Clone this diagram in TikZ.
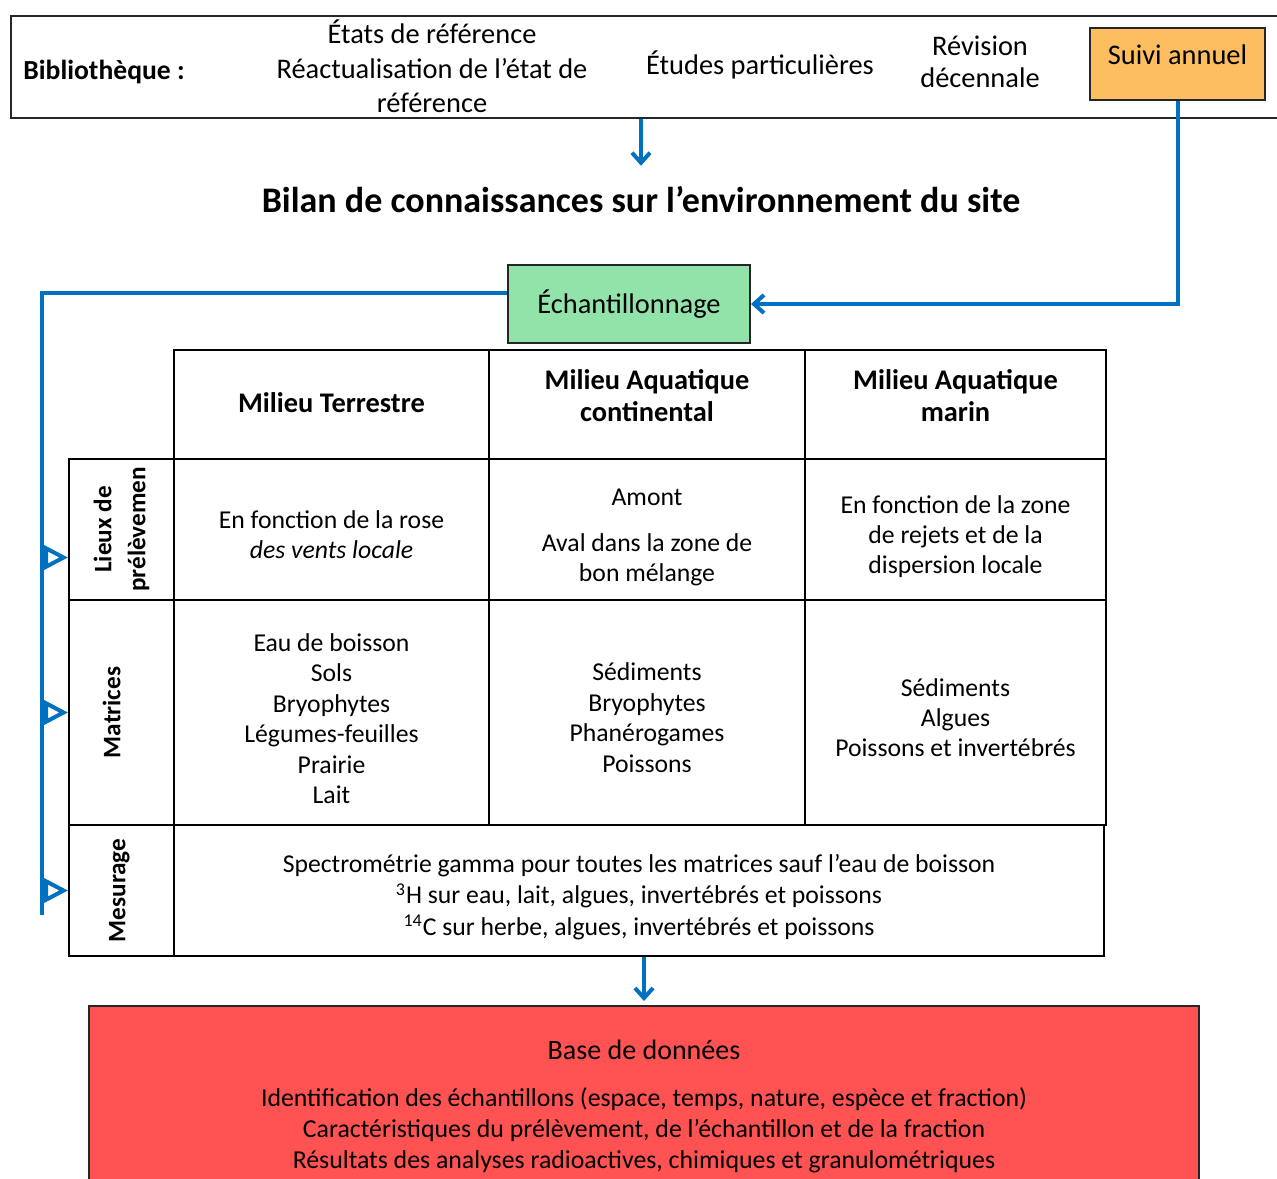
\documentclass[tikz,border=0pt]{standalone}
\usepackage{fontspec}
\setmainfont{Carlito}
\usepackage{graphicx}
\usetikzlibrary{arrows.meta,positioning}

\definecolor{flowblue}{RGB}{0,112,192}
\definecolor{suiviorange}{RGB}{253,190,96}
\definecolor{echgreen}{RGB}{146,227,170}
\definecolor{basered}{RGB}{255,82,82}

\newcommand{\txt}{\fontsize{12.85}{15.2}\selectfont}
\newcommand{\celltext}[2][-4pt]{\raisebox{#1}[\height][\depth]{\begin{tabular}{@{}c@{}}#2\end{tabular}}}

\begin{document}
\begin{tikzpicture}[x=0.5pt,y=-0.5pt,
	every node/.style={font=\txt},
	box/.style={draw=black!85, line width=1pt, inner sep=0pt},
	cell/.style={draw=black, line width=1pt, inner sep=0pt},
	head/.style={cell, font=\fontsize{14.2}{16}\selectfont\bfseries},
	side/.style={cell, font=\fontsize{12.6}{17}\selectfont\bfseries, minimum width=52.5pt},
	strip/.style={font=\fontsize{14.2}{17.25}\selectfont},
	flow/.style={draw=flowblue, line width=2pt, -{Straight Barb[length=5pt,width=9pt]}},
	feed/.style={draw=flowblue, line width=2pt, -{Triangle[open,length=12pt,width=12pt]}}]
	\useasboundingbox (0,0) rectangle (1277,1178);
	
	% bibliotheque
	\node[box, minimum width=650pt, minimum height=51pt, anchor=north west] (biblio) at (10,15) {};
	\node[font=\fontsize{13.8}{15}\selectfont\bfseries] (bib) at (104,72) {Bibliothèque :};
	\node[strip, align=center] (etats) at (432,66.5) {États de référence\\Réactualisation de l’état de\\référence};
	\node[strip] (etudes) at (760,65) {Études particulières};
	\node[strip, align=center, font=\fontsize{14.2}{16}\selectfont] (revision) at (980,62) {Révision\\décennale};
	\node[box, strip, fill=suiviorange, minimum width=87.5pt, minimum height=36pt] (suivi) at (1177.5,64) {\raisebox{4.5pt}[\height][\depth]{Suivi annuel}};
	
	\node[font=\fontsize{18}{21}\selectfont\bfseries] (bilan) at (641,200) {Bilan de connaissances sur l’environnement du site};
	\draw[flow] (biblio.south -| bilan.north) -- ([yshift=7pt]bilan.north);
	
	\node[box, strip, fill=echgreen, minimum width=121pt, minimum height=39pt] (echant) at (629,304) {Échantillonnage};
	\draw[flow] (suivi.south) |- (echant.east);
	
	% tableau
	\node[head, minimum width=157.5pt, minimum height=54.5pt] (terr) at (331.5,404.5) {\celltext[-1pt]{Milieu Terrestre}};
	\node[head, minimum width=158pt, minimum height=54.5pt] (cont) at (647,404.5) {\celltext[2.5pt]{Milieu Aquatique\\continental}};
	\node[head, minimum width=150.5pt, minimum height=54.5pt] (marin) at (955.5,404.5) {\celltext[2.5pt]{Milieu Aquatique\\marin}};
	
	\node[side, minimum height=70.5pt] (lieux) at (121.5,529.5) {\rotatebox{90}{\celltext[0pt]{Lieux de\\prélèvemen}}};
	\node[cell, minimum width=157.5pt, minimum height=70.5pt] (rose) at (331.5,529.5) {\celltext{En fonction de la rose\\\textit{des vents locale}}};
	\node[cell, minimum width=158pt, minimum height=70.5pt] (amont) at (647,529.5) {\celltext{Amont\\[8pt]Aval dans la zone de\\bon mélange}};
	\node[cell, minimum width=150.5pt, minimum height=70.5pt] (rejets) at (955.5,529.5) {\celltext{En fonction de la zone\\de rejets et de la\\dispersion locale}};
	
	\node[side, minimum height=112.5pt] (matrices) at (121.5,712.5) {\rotatebox{90}{\celltext[4pt]{Matrices}}};
	\node[cell, minimum width=157.5pt, minimum height=112.5pt] (terrmat) at (331.5,712.5) {\celltext[-4.5pt]{Eau de boisson\\Sols\\Bryophytes\\Légumes-feuilles\\Prairie\\Lait}};
	\node[cell, minimum width=158pt, minimum height=112.5pt] (contmat) at (647,712.5) {\celltext{Sédiments\\Bryophytes\\Phanérogames\\Poissons}};
	\node[cell, minimum width=150.5pt, minimum height=112.5pt] (marinmat) at (955.5,712.5) {\celltext{Sédiments\\Algues\\Poissons et invertébrés}};
	
	\node[side, minimum height=65.5pt] (mesure) at (121.5,890.5) {\rotatebox{90}{\celltext[1.5pt]{Mesurage}}};
	\node[cell, minimum width=465pt, minimum height=65.5pt, font=\fontsize{12.85}{15.75}\selectfont] (mesmat) at (639,890.5) {\celltext[-3.5pt]{Spectrométrie gamma pour toutes les matrices sauf l’eau de boisson\\\textsuperscript{3}H sur eau, lait, algues, invertébrés et poissons\\\textsuperscript{14}C sur herbe, algues, invertébrés et poissons}};
	
	% renvois vers les lignes
	\coordinate (rail) at (42,915);
	\coordinate (lieuxin) at ([yshift=-14pt]lieux.west);
	\draw[draw=flowblue, line width=2pt] ([yshift=5.5pt]echant.west) -| (rail);
	\draw[feed] (rail |- lieuxin) -- (lieuxin);
	\draw[feed] (rail |- matrices.west) -- (matrices.west);
	\draw[feed] (rail |- mesure.west) -- (mesure.west);
	
	% base
	\node[box, fill=basered, minimum width=555pt, minimum height=100pt, anchor=north, font=\fontsize{12.9}{15.5}\selectfont] (base) at (644,1005) {\celltext[-1pt]{{\fontsize{14}{17}\selectfont Base de données}\\[8pt]Identification des échantillons (espace, temps, nature, espèce et fraction)\\Caractéristiques du prélèvement, de l’échantillon et de la fraction\\Résultats des analyses radioactives, chimiques et granulométriques}};
	\draw[flow] (base.north |- mesmat.south) -- ([yshift=2pt]base.north);
\end{tikzpicture}
\end{document}
